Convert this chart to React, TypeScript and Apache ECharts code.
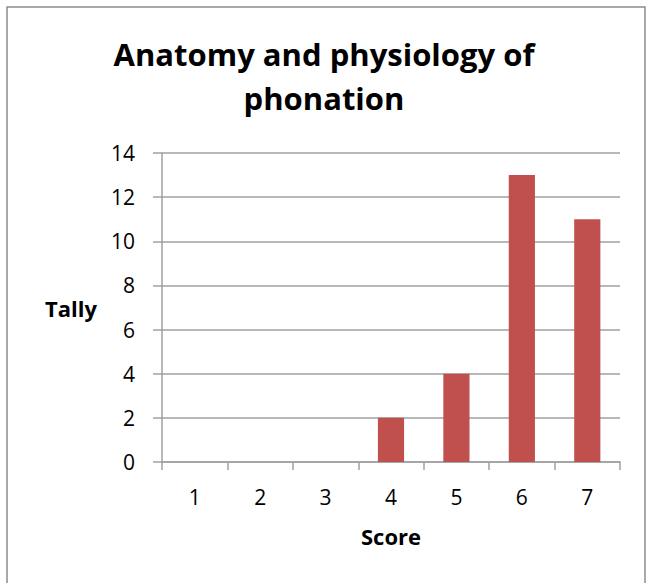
import React, { useEffect, useRef } from "react";
import * as echarts from "echarts";

const categories = ["1", "2", "3", "4", "5", "6", "7"];
const tally = [0, 0, 0, 2, 4, 13, 11];
const titleText = "Anatomy and physiology of\nphonation";
const xName = "Score";
const yName = "Tally";

export default function App() {
  const ref = useRef<HTMLDivElement>(null);
  useEffect(() => {
    if (!ref.current) return;
    const chart = echarts.init(ref.current, null, { renderer: "svg" });
    const font = "'Open Sans', sans-serif";
    chart.setOption({
      animation: false,
      backgroundColor: "#ffffff",
      textStyle: { fontFamily: font },
      title: {
        text: titleText,
        left: "center",
        top: 27,
        textStyle: {
          fontFamily: font,
          fontSize: 31,
          fontWeight: "bold",
          color: "#000",
          lineHeight: 44,
        },
      },
      graphic: [
        {
          type: "rect",
          shape: { x: 7, y: 7, width: 638, height: 600 },
          style: { fill: "none", stroke: "#8c8c8c", lineWidth: 1.5 },
          silent: true,
        },
      ],
      grid: { left: 162, right: 28, top: 153, bottom: 121 },
      xAxis: {
        type: "category",
        data: categories,
        name: xName,
        nameLocation: "middle",
        nameGap: 63,
        nameTextStyle: { fontFamily: font, fontSize: 22, fontWeight: "bold", color: "#000" },
        axisLine: { lineStyle: { color: "#a0a0a0", width: 1.5 } },
        axisTick: { show: true, length: 8, lineStyle: { color: "#a0a0a0", width: 1.5 } },
        axisLabel: { fontFamily: font, fontSize: 21, color: "#000", margin: 24 },
      },
      yAxis: {
        type: "value",
        min: 0,
        max: 14,
        interval: 2,
        name: yName,
        nameLocation: "middle",
        nameRotate: 0,
        nameGap: 65,
        nameTextStyle: { fontFamily: font, fontSize: 22, fontWeight: "bold", color: "#000", align: "right" },
        axisLine: { show: true, lineStyle: { color: "#a0a0a0", width: 1.5 } },
        axisTick: { show: true, length: 9, lineStyle: { color: "#a0a0a0", width: 1.5 } },
        axisLabel: { fontFamily: font, fontSize: 21, color: "#000", margin: 27 },
        splitLine: { show: true, lineStyle: { color: "#a0a0a0", width: 1.5 } },
      },
      series: [
        {
          type: "bar",
          data: tally,
          barWidth: "40%",
          itemStyle: { color: "#c0504d" },
        },
      ],
    });
    return () => chart.dispose();
  }, []);
  return (
    <div
      ref={ref}
      style={{ position: "fixed", left: 0, top: 0, width: 648, height: 583 }}
    />
  );
}
